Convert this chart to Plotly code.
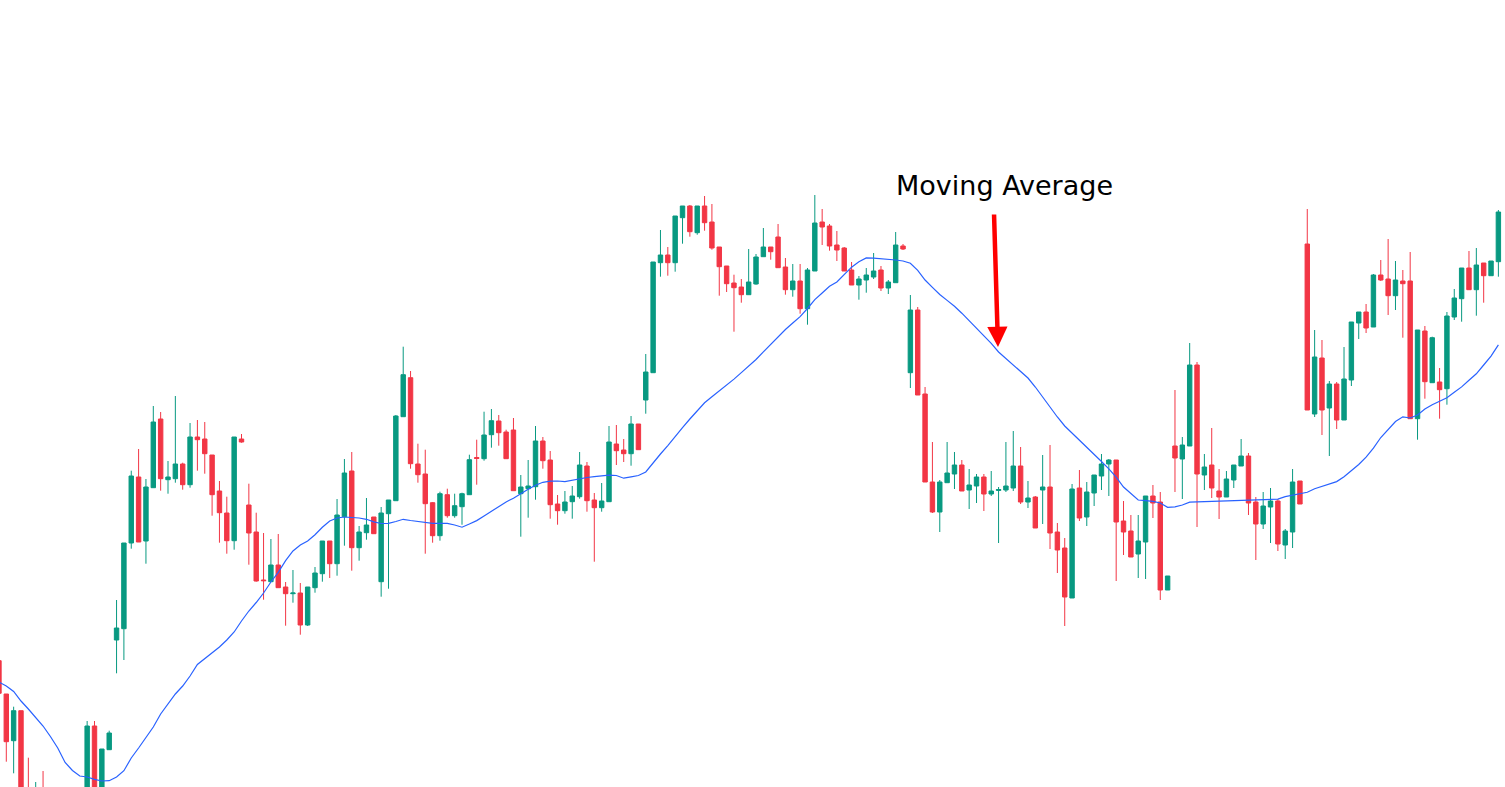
import plotly.graph_objects as go

# Candle data (price units), one entry per candle, left to right
OPEN = [126.3, 93, 46.3, 76.3, -8, -43, -8, -30, -70, -40, -60, -30, -13, 61, -13, 37.3, 147, 158.3, 244, 310,
        246, 299.3, 368, 307.3, 308.3, 323, 302.3, 350, 348, 332, 296, 274, 246.3, 348, 282, 255, 207, 205.3, 222, 200,
        193.3, 194, 162, 199.3, 213.3, 246, 223.3, 270.3, 316, 239.3, 254.3, 270, 205.3, 273.3, 286.3, 370.3, 409.3, 323, 313, 284.3,
        251.3, 292.3, 271.3, 280.3, 292.3, 329.5, 328.3, 352.3, 366, 355, 357, 293.3, 298.3, 300.3, 346, 327, 283, 276.3, 285.3, 290.3,
        321, 287, 279.3, 285.3, 343, 337, 333.3, 363, 387, 414.3, 524.3, 532, 524.3, 569.3, 581, 554.3, 581, 565, 540, 521,
        504, 500, 492.3, 503, 530.3, 540, 550, 520, 497.3, 506, 478.3, 516, 565, 561, 542, 539, 517, 502, 507, 510,
        517, 499, 504.3, 541, 414.3, 477, 393, 305, 275, 304.3, 313, 322, 297, 301, 310, 293, 296.5, 297, 299, 321,
        285, 290, 297, 300, 255, 239, 189, 299, 270, 294, 311, 323, 327, 266, 256, 233, 245, 291, 285, 197,
        341, 328, 341, 422, 312, 322, 296, 290, 307, 321, 331, 285, 263, 280, 286, 242, 255, 306, 543, 373,
        429, 379, 403, 367, 407, 464, 475, 460, 512, 508, 491.3, 506, 506, 368.3, 456, 404.3, 405, 398.3, 470, 488.3,
        519, 497.3, 524, 511.3, 525.3]
HIGH = [127, 93, 80.3, 76.3, 29.3, 5, 16, -20, -30, -25, -20, -5, 66, 66, 38, 56.3, 187, 244, 316.3, 338,
        308, 381, 375, 326, 391, 324.3, 364, 367, 365, 332, 306, 290.3, 350, 353, 303.3, 274.3, 254, 248, 253, 205,
        217, 204, 200, 220, 246, 246, 288, 328, 335, 261, 289, 270, 280, 287, 372, 440.3, 416, 343.3, 337.3, 285,
        295.3, 298.3, 293.3, 294.3, 332.3, 347.3, 375.3, 378, 372, 357.3, 369, 312, 327, 361, 350, 336, 292, 296, 301, 335,
        325, 294, 304, 361, 362, 348, 371, 363, 433, 525, 557, 540, 571, 581, 582, 581, 591, 583, 540, 521,
        512.3, 508, 538, 533, 559, 540, 563, 529, 523, 523, 519, 592, 578, 563, 556, 540, 525, 511, 519, 534,
        521, 507, 555, 543, 492, 480, 400, 345, 307, 345, 335, 327, 318, 313, 313, 316, 300, 345, 356, 340,
        306, 291, 332, 342, 264, 249, 303, 317, 305, 312, 333, 328, 327, 286, 272, 272, 291, 302, 295, 211,
        397, 350, 444, 425, 333, 359, 318, 316, 322, 348, 334, 290, 295, 299, 288, 258, 318, 306, 578, 457,
        447, 406, 405, 440, 465, 475, 483, 513, 527, 548, 526, 517, 535, 457, 461, 450.3, 419, 475, 498, 519,
        536, 539, 524, 526, 577]
LOW = [93, 25.3, 13.7, -23, -38, -53, -43, -70, -80, -75, -70, -40, -20, -20, -20, 37, 113.7, 127, 238.3, 245,
       223.3, 299, 296.3, 293.3, 304.3, 297.3, 299.3, 316.3, 313.3, 271.3, 244.3, 233.3, 237.3, 344.3, 222.3, 205.3, 187.3, 205.3, 199.3, 161.3,
       184.3, 152.3, 161, 194.3, 205.3, 209, 211.3, 241.3, 216.3, 226.3, 247.3, 253.3, 190.3, 198.3, 286.3, 370.3, 318.3, 304.3, 233.3, 244.3,
       246.3, 269.3, 269.3, 262.3, 292.3, 302.3, 326.3, 339.3, 341.3, 328.3, 296.3, 250.3, 269.3, 287.3, 318.3, 268.3, 262.3, 273.3, 268.3, 288.3,
       275.3, 225.3, 275.3, 285.3, 322, 325, 321.3, 337.3, 373.3, 414.3, 510.3, 511.3, 515.3, 543.3, 550.3, 552.3, 556.3, 537.3, 491.3, 495,
       455.3, 484.3, 492.3, 502.3, 530.3, 527.3, 519.3, 492.3, 490.3, 473.3, 462.3, 516, 542, 536.3, 526, 516, 502, 487.3, 494.3, 508,
       496, 493, 504.3, 537, 399, 392, 305, 274, 255, 304.3, 298, 296, 278, 284, 276, 291, 244, 295, 296, 283,
       279, 259, 263, 238, 214, 161, 189, 266, 261, 281, 297, 291, 206, 232, 230, 209, 208, 269, 187, 197,
       295, 288, 341, 260, 297, 289, 268, 290, 299, 321, 272, 227, 258, 244, 236, 228, 239, 283, 377, 370,
       352, 331, 358, 367, 401, 448, 454, 460, 506, 472, 477, 449.3, 368.3, 347.3, 388.3, 404.3, 368.3, 382.3, 467, 465.3,
       497.3, 471.3, 484.3, 511.3, 510.3]
CLOSE = [93.7, 45.3, 76.3, -13, -28, -13, -33, -60, -40, -65, -30, -10, 61, -13, 38, 54, 159, 244, 311, 245,
         300, 365, 308.3, 310, 323, 302.3, 350, 347.3, 333.3, 292.3, 274.3, 246.3, 350, 345, 254, 206, 206.3, 222, 199.3, 193.3,
         194, 162, 200, 214, 246, 223.3, 272, 314, 239.3, 255, 262, 253.3, 274, 287, 371, 412.3, 323.3, 312.3, 283.3, 251.3,
         293.3, 271.3, 281.3, 293.3, 327.3, 328.5, 352, 366.3, 354.3, 328.3, 296.3, 300, 301, 346, 326.3, 282.3, 276.3, 285, 291, 322,
         286.3, 279.3, 286, 345, 336.3, 333.3, 363, 337.3, 415, 525, 532, 524.3, 571, 581, 555.3, 581, 564.3, 539, 520.3, 503.3,
         499.3, 492.3, 505, 530, 540, 535.3, 519.3, 497.3, 506, 478.3, 517, 564, 560, 541, 537, 516, 502, 508, 512, 516,
         499, 505, 542, 538, 477, 392, 305, 275, 305, 314, 322, 296, 302, 310, 293, 296, 297.5, 301, 321, 285,
         289, 259, 300, 254, 237, 190, 298, 269, 295, 312, 323, 327, 265, 255, 230, 246, 291, 284, 197, 211,
         329, 342, 422, 313, 320, 299, 290, 308, 322, 331, 284, 263, 281, 286, 243, 256, 305, 283, 377, 430,
         377, 403, 367, 408, 465, 475, 459, 512, 507, 491.3, 507, 503.3, 368.3, 457, 405.3, 449.3, 397.3, 471, 489, 519,
         497.3, 522, 511.3, 526, 575]
# Moving average value at each candle
MA = [105, 101, 95.5, 86, 78, 70, 61, 50.5, 39, 24.5, 16.5, 11, 10, 7.7, 6, 6.3, 10, 16.3, 29, 39,
      49, 60, 73, 83, 93, 101, 111, 122.5, 128.5, 134, 140, 147, 155, 166, 176, 184.5, 194, 205, 214.7, 226.3,
      236, 242, 246, 252.3, 259.7, 266, 269, 270, 269.8, 269, 267.7, 265.2, 263.5, 263.6, 265.5, 267.7, 266.5, 265.5, 264.2, 263.7,
      263.7, 263.7, 262, 259.8, 263, 266.4, 271, 276, 281, 285.1, 288.8, 293.5, 297.8, 301.8, 304.7, 305.8, 306, 305.4, 306.7, 308.6,
      309.5, 310.4, 311, 311.8, 311.5, 308.8, 310.2, 311.5, 315, 324.5, 333, 341.4, 350.7, 359.3, 368, 376.6, 384.2, 390.2, 396, 402,
      407.9, 414.4, 421, 427.5, 435.2, 442.5, 450.5, 457.5, 464, 470.4, 478.5, 487.4, 494, 500.7, 505, 512, 519.8, 525.2, 529.1, 528.9,
      528.4, 528, 527, 526, 523.7, 516.7, 507, 499.6, 492.5, 486.6, 480.7, 473.8, 466.2, 458.9, 451.5, 443.6, 435, 428.6, 422, 415.5,
      409, 400, 390, 379.3, 370, 361, 354, 347.5, 340.4, 333, 325.5, 318.2, 309.8, 300, 293, 287, 286.4, 285.7, 284, 279.7,
      280.1, 282, 284.9, 285.2, 285.5, 285.8, 285.9, 286, 286.5, 287, 287, 287, 287.2, 287.5, 287.9, 290.3, 291.7, 292.6, 294.7, 298.2,
      300.4, 302.5, 305.4, 310.2, 316.1, 322.5, 329.8, 338.8, 349.5, 358, 365.5, 370.2, 369, 372, 378, 382.3, 385.5, 389.2, 394.7, 400.1,
      406.7, 413.2, 422, 430.9, 442.1]

IDX = list(range(len(OPEN)))

GREEN = "#089981"
RED = "#F23645"
BLUE = "#2962FF"

fig = go.Figure()
fig.add_trace(go.Candlestick(
    x=IDX, open=OPEN, high=HIGH, low=LOW, close=CLOSE,
    increasing=dict(line=dict(color=GREEN, width=1), fillcolor=GREEN),
    decreasing=dict(line=dict(color=RED, width=1), fillcolor=RED),
    whiskerwidth=0, hoverinfo="skip", showlegend=False,
))
fig.add_trace(go.Scatter(
    x=IDX, y=MA, mode="lines", line=dict(color=BLUE, width=1.2),
    hoverinfo="skip", showlegend=False,
))

W, H = 1505, 787
fig.add_annotation(
    text="Moving Average", xref="paper", yref="paper",
    x=1004.5 / W, y=1 - 185 / H, xanchor="center", yanchor="middle",
    showarrow=False, font=dict(family="DejaVu Sans", size=27, color="black"),
)
fig.add_annotation(
    text="", xref="paper", yref="paper",
    x=998 / W, y=1 - 347 / H, ax=-4, ay=-134,
    showarrow=True, arrowcolor="#FF0000", arrowwidth=4.5, arrowhead=2,
    arrowsize=0.9, standoff=0,
)

fig.update_layout(
    width=W, height=H,
    margin=dict(l=0, r=0, t=0, b=0),
    paper_bgcolor="white", plot_bgcolor="white",
    showlegend=False, boxgap=0.4, boxgroupgap=0,
    xaxis=dict(range=[0.143, 204.9], visible=False, rangeslider=dict(visible=False)),
    yaxis=dict(range=[0, 787], visible=False),
)
fig.write_html("out.html")
